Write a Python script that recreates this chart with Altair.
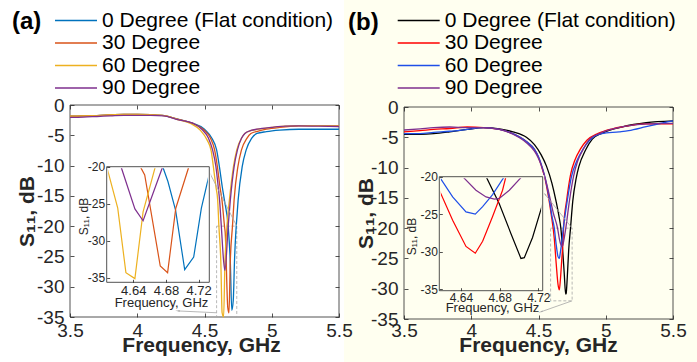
import altair as alt
import pandas as pd

W, H = 697, 362
FONT = "Liberation Sans"
DARK = "#262626"
GRAY = "#A6A6A6"
WHITE = "#FFFFFF"
CREAM = "#FFFFF0"

series = ["0 Degree (Flat condition)", "30 Degree", "60 Degree", "90 Degree"]
colors_a = ["#0072BD", "#D95319", "#EDB120", "#7E2F8E"]
colors_b = ["#000000", "#FF0000", "#1F4FE8", "#7E2F8E"]

# ---------------- panel (a) ----------------
a0_f = [3.5, 3.6, 3.7, 3.8, 3.9, 4.0, 4.1, 4.2, 4.3, 4.41, 4.5, 4.555, 4.59, 4.611, 4.632, 4.648, 4.676,
        4.6824, 4.6918, 4.7029, 4.7139, 4.7233, 4.733, 4.736, 4.75, 4.78, 4.81, 4.85, 4.89, 4.96, 5.06,
        5.2, 5.35, 5.5]
a0_db = [-1.85, -1.8, -1.75, -1.65, -1.55, -1.55, -1.6, -1.75, -2.35, -3.0, -4.0, -5.5, -7.4, -10.2, -13.5,
         -15.7, -20.0, -22.0, -25.9, -33.9, -32.2, -25.6, -21.0, -20.0, -15.7, -10.2, -7.4, -5.5, -4.7, -4.4,
         -4.15, -4.0, -4.0, -4.0]
a30_f = [3.5, 3.6, 3.7, 3.8, 3.9, 4.0, 4.1, 4.2, 4.3, 4.41, 4.49, 4.545, 4.575, 4.596, 4.615, 4.63, 4.6486,
         4.654, 4.673, 4.682, 4.692, 4.708, 4.72, 4.748, 4.775, 4.815, 4.845, 4.9, 4.96, 5.06, 5.2, 5.35, 5.5]
a30_db = [-1.85, -1.8, -1.75, -1.65, -1.55, -1.55, -1.6, -1.75, -2.35, -3.0, -4.0, -5.5, -7.4, -10.2, -13.5,
          -15.7, -20.0, -21.1, -33.4, -34.3, -25.6, -20.0, -15.7, -10.2, -7.4, -5.5, -4.7, -4.3, -4.0, -3.7,
          -3.45, -3.4, -3.45]
a60_f = [3.5, 3.6, 3.7, 3.8, 3.9, 4.0, 4.1, 4.2, 4.3, 4.4, 4.47, 4.52, 4.55, 4.566, 4.585, 4.598, 4.607,
         4.621, 4.631, 4.642, 4.652, 4.667, 4.685, 4.715, 4.74, 4.775, 4.80, 4.85, 4.9, 5.0, 5.1, 5.2, 5.35, 5.5]
a60_db = [-1.85, -1.8, -1.75, -1.65, -1.55, -1.55, -1.6, -1.75, -2.4, -3.1, -4.2, -5.8, -7.6, -10.2, -13.5,
          -15.7, -20.0, -25.6, -34.3, -35.1, -26.1, -20.0, -15.7, -10.2, -7.4, -5.5, -4.7, -4.2, -4.0, -3.7,
          -3.5, -3.4, -3.4, -3.45]
a90_f = [3.5, 3.6, 3.7, 3.8, 3.9, 4.0, 4.1, 4.2, 4.3, 4.41, 4.48, 4.53, 4.56, 4.585, 4.602, 4.612, 4.625,
         4.642, 4.652, 4.676, 4.692, 4.72, 4.745, 4.775, 4.80, 4.845, 4.89, 5.0, 5.1, 5.2, 5.35, 5.5]
a90_db = [-2.05, -2.0, -1.9, -1.8, -1.7, -1.7, -1.7, -1.8, -2.4, -3.0, -4.0, -5.5, -7.4, -10.2, -13.5, -15.7,
          -20.0, -25.7, -27.3, -20.0, -15.7, -10.2, -7.4, -5.5, -4.7, -4.2, -4.0, -3.7, -3.5, -3.45, -3.5, -3.55]

# ---------------- panel (b) ----------------
b0_f = [3.5, 3.62, 3.72, 3.84, 3.97, 4.09, 4.21, 4.31, 4.41, 4.47, 4.52, 4.56, 4.6, 4.63, 4.652, 4.666,
        4.6796, 4.6917, 4.702, 4.7055, 4.714, 4.7245, 4.738, 4.755, 4.78, 4.80, 4.85, 4.9, 4.97, 5.13, 5.3, 5.5]
b0_db = [-4.5, -4.5, -4.4, -4.1, -3.7, -3.4, -3.6, -4.1, -5.0, -6.2, -7.9, -9.8, -12.6, -15.5, -18.0, -20.0,
         -23.6, -27.6, -30.9, -30.8, -28.1, -23.6, -20.0, -15.5, -11.8, -9.85, -7.1, -5.3, -4.35, -3.25, -2.6, -2.3]
b30_f = [3.5, 3.62, 3.72, 3.84, 3.97, 4.09, 4.21, 4.31, 4.41, 4.47, 4.5, 4.52, 4.55, 4.57, 4.595, 4.6176,
         4.6314, 4.6452, 4.6548, 4.6624, 4.6727, 4.683, 4.6865, 4.71, 4.74, 4.77, 4.81, 4.86, 4.944, 5.05,
         5.13, 5.3, 5.5]
b30_db = [-4.1, -3.9, -3.7, -3.55, -3.3, -3.4, -3.7, -4.4, -5.7, -7.0, -8.3, -9.6, -12.0, -14.3, -17.8, -21.8,
          -25.8, -29.3, -30.2, -28.6, -25.3, -21.8, -20.0, -15.3, -11.0, -8.8, -7.0, -5.5, -4.35, -3.6, -3.25,
          -2.8, -2.8]
b60_f = [3.5, 3.62, 3.72, 3.84, 3.97, 4.09, 4.21, 4.31, 4.41, 4.47, 4.5, 4.52, 4.55, 4.575, 4.6, 4.6176,
         4.6314, 4.6452, 4.6548, 4.6624, 4.6727, 4.6848, 4.715, 4.745, 4.787, 4.83, 4.88, 4.97, 5.1, 5.17,
         5.3, 5.43, 5.5]
b60_db = [-4.4, -4.4, -4.2, -4.0, -3.7, -3.4, -3.7, -4.4, -5.7, -7.0, -8.2, -9.4, -11.8, -14.5, -18.0, -20.0,
          -22.7, -24.7, -25.0, -24.0, -22.4, -20.0, -15.3, -11.5, -8.8, -7.0, -5.5, -4.4, -4.1, -3.9, -3.25,
          -2.6, -2.3]
b90_f = [3.5, 3.62, 3.72, 3.84, 3.97, 4.09, 4.21, 4.31, 4.41, 4.47, 4.5, 4.52, 4.55, 4.58, 4.61, 4.6417,
         4.6555, 4.6659, 4.6745, 4.6796, 4.69, 4.703, 4.73, 4.76, 4.79, 4.83, 4.88, 4.957, 5.13, 5.3, 5.5]
b90_db = [-3.8, -3.6, -3.4, -3.3, -3.4, -3.4, -3.7, -4.5, -5.9, -7.3, -8.5, -9.6, -11.8, -14.5, -17.5, -20.0,
          -21.8, -22.7, -23.0, -22.9, -21.8, -20.0, -15.5, -11.5, -9.0, -7.1, -5.3, -4.35, -3.25, -2.8, -2.7]

# ---------------- axes / zoom boxes ----------------
x_ticks = [3.5, 4, 4.5, 5, 5.5]
y_ticks = [0, -5, -10, -15, -20, -25, -30, -35]
inset_x_ticks = [4.64, 4.68, 4.72]
inset_y_ticks = [-20, -25, -30, -35]
main_xlim = [3.5, 5.5]
main_ylim = [-35, 0]
inset_a_xlim = [4.6075, 4.733]
inset_a_ylim = [-35.6, -20]
inset_b_xlim = [4.6176, 4.7245]
inset_b_ylim = [-35.2, -20]
zoom_a_f = [4.59, 4.74]
zoom_a_db = [-35, -20]
zoom_b_f = [4.59, 4.75]
zoom_b_db = [-32, -20]
arrow_a1_f, arrow_a1_db = [4.74, 4.541], [-20, -11.3]
arrow_a2_f, arrow_a2_db = [4.59, 4.305], [-34.3, -34.0]
arrow_b1_f, arrow_b1_db = [4.75, 4.548], [-20, -14.4]
arrow_b2_f, arrow_b2_db = [4.75, 4.52], [-32, -33.8]


def curves(fs, dbs):
    rows = []
    for name, f, d in zip(series, fs, dbs):
        for fi, di in zip(f, d):
            rows.append({"series": name, "f": fi, "dB": di})
    return pd.DataFrame(rows)


def box(xlim, ylim):
    return pd.DataFrame({"x0": [xlim[0]], "x1": [xlim[1]], "y0": [ylim[0]], "y1": [ylim[1]]})


def seg(fs, dbs):
    return pd.DataFrame({"f": fs, "dB": dbs})


def sc(dom, rng, clamp=False):
    return alt.Scale(domain=dom, range=rng, nice=False, zero=False, clamp=clamp)


def tick_axis(orient, offset, values, size):
    return alt.Axis(orient=orient, offset=offset, values=values, labels=False, domain=False, grid=False,
                    ticks=True, tickSize=size, tickColor=DARK, tickWidth=0.8, title=None, zindex=2)


def label_axis(orient, offset, values, fsize, pad, title, tsize, tweight, tx, ty):
    kw = dict(orient=orient, offset=offset, values=values, labelExpr="datum.value + ''", labelFont=FONT,
              labelFontSize=fsize, labelColor=DARK, labelPadding=pad, labelFlush=False, labelOverlap=False,
              ticks=False, domain=False, grid=False, title=title, titleFont=FONT, titleFontSize=tsize,
              titleFontWeight=tweight, titleColor=DARK, titleX=tx, titleY=ty, titleBaseline="alphabetic",
              titleAlign="center", zindex=2)
    if orient == "left":
        kw["titleAngle"] = 270
    return alt.Axis(**kw)


def panel(G, df, colors, bg):
    xr, yr, ixr, iyr = G["xr"], G["yr"], G["ixr"], G["iyr"]
    L = []
    # main frame with labelled axes
    L.append(alt.Chart(box(main_xlim, main_ylim)).mark_rect(filled=False, color=DARK, strokeWidth=0.8).encode(
        x=alt.X("x0:Q", scale=sc(main_xlim, xr),
                axis=label_axis("bottom", yr[0] - H, x_ticks, 19, G["xlp"], "Frequency, GHz", 21, "bold",
                                G["xtx"], G["xty"])),
        x2="x1:Q",
        y=alt.Y("y0:Q", scale=sc(main_ylim, yr),
                axis=label_axis("left", -xr[0], y_ticks, 19, 6, "S₁₁, dB", 21, "bold", G["ytx"], G["yty"])),
        y2="y1:Q"))
    # dashed zoom box + inward ticks on top and right edges
    L.append(alt.Chart(box(G["zf"], G["zdb"])).mark_rect(filled=False, color=GRAY, strokeWidth=0.8,
                                                       strokeDash=[3, 2]).encode(
        x=alt.X("x0:Q", scale=sc(main_xlim, xr), axis=tick_axis("bottom", yr[1] - H, x_ticks, 4)),
        x2="x1:Q",
        y=alt.Y("y0:Q", scale=sc(main_ylim, yr), axis=tick_axis("left", -xr[1], y_ticks, 4)),
        y2="y1:Q"))
    # main curves + inward ticks on bottom and left edges
    L.append(alt.Chart(df).mark_line(strokeWidth=1.3, interpolate="monotone").encode(
        x=alt.X("f:Q", scale=sc(main_xlim, xr, True), axis=tick_axis("top", -yr[0], x_ticks, 4)),
        y=alt.Y("dB:Q", scale=sc(main_ylim, yr, True), axis=tick_axis("right", xr[0] - W, y_ticks, 4)),
        color=alt.Color("series:N", scale=alt.Scale(domain=series, range=colors),
                        legend=alt.Legend(orient="none", legendX=G["lx"], legendY=G["ly"], title=None,
                                          symbolType="stroke", symbolSize=1764, symbolStrokeWidth=1.5,
                                          labelFont=FONT, labelFontSize=21, labelColor="black", labelOffset=4,
                                          clipHeight=21, rowPadding=0.5, padding=0, labelLimit=400,
                                          direction="vertical"))))
    # arrows
    for fs, dbs, ang in G["arrows"]:
        L.append(alt.Chart(seg(fs, dbs)).mark_line(color=GRAY, strokeWidth=0.8).encode(
            x=alt.X("f:Q", scale=sc(main_xlim, xr), axis=None),
            y=alt.Y("dB:Q", scale=sc(main_ylim, yr), axis=None)))
        L.append(alt.Chart(seg(fs[1:], dbs[1:])).mark_point(shape="wedge", angle=ang, size=28, filled=True,
                                                            color=GRAY, opacity=1).encode(
            x=alt.X("f:Q", scale=sc(main_xlim, xr), axis=None),
            y=alt.Y("dB:Q", scale=sc(main_ylim, yr), axis=None)))
    # inset curves
    L.append(alt.Chart(df).mark_line(strokeWidth=1.2).encode(
        x=alt.X("f:Q", scale=sc(G["ixlim"], ixr, True), axis=tick_axis("top", -iyr[0], inset_x_ticks, 3)),
        y=alt.Y("dB:Q", scale=sc(G["iylim"], iyr, True), axis=tick_axis("right", ixr[0] - W, inset_y_ticks, 3)),
        color=alt.Color("series:N", scale=alt.Scale(domain=series, range=colors), legend=None)))
    # mask for clamped parts along the inset edges
    L.append(alt.Chart(box(G["ixlim"], G["iylim"])).mark_rect(filled=False, color=bg, strokeWidth=3).encode(
        x=alt.X("x0:Q", scale=sc(G["ixlim"], ixr), axis=None), x2="x1:Q",
        y=alt.Y("y0:Q", scale=sc(G["iylim"], iyr), axis=None), y2="y1:Q"))
    # inset frame with labelled axes
    L.append(alt.Chart(box(G["ixlim"], G["iylim"])).mark_rect(filled=False, color=DARK, strokeWidth=0.8).encode(
        x=alt.X("x0:Q", scale=sc(G["ixlim"], ixr),
                axis=label_axis("bottom", iyr[0] - H, inset_x_ticks, G["ixfs"], 2, "Frequency, GHz", 13,
                                "normal", G["ixtx"], G["ixty"])),
        x2="x1:Q",
        y=alt.Y("y0:Q", scale=sc(G["iylim"], iyr),
                axis=label_axis("left", -ixr[0], inset_y_ticks, 12, 2, "S₁₁, dB", 12, "normal",
                                G["iytx"], G["iyty"])),
        y2="y1:Q"))
    return L


GA = dict(xr=[70, 339], yr=[317, 105], ixr=[106.7, 209.3], iyr=[282.3, 166.7],
          ixlim=inset_a_xlim, iylim=inset_a_ylim, zf=zoom_a_f, zdb=zoom_a_db,
          xlp=4, xtx=201, xty=34.5, ytx=-37, yty=211, lx=54, ly=10,
          ixfs=13, ixtx=161, ixty=23.7, iytx=-19.7, iyty=216,
          arrows=[(arrow_a1_f, arrow_a1_db, 333), (arrow_a2_f, arrow_a2_db, 273)])
GB = dict(xr=[404, 673], yr=[319, 107], ixr=[439.3, 542.7], iyr=[290.7, 176.7],
          ixlim=inset_b_xlim, iylim=inset_b_ylim, zf=zoom_b_f, zdb=zoom_b_db,
          xlp=2, xtx=538, xty=32.5, ytx=-32, yty=213, lx=396.7, ly=10,
          ixfs=12, ixtx=492, ixty=20.3, iytx=-24.3, iyty=236,
          arrows=[(arrow_b1_f, arrow_b1_db, 320), (arrow_b2_f, arrow_b2_db, 249)])

df_a = curves([a0_f, a30_f, a60_f, a90_f], [a0_db, a30_db, a60_db, a90_db])
df_b = curves([b0_f, b30_f, b60_f, b90_f], [b0_db, b30_db, b60_db, b90_db])

one = pd.DataFrame({"k": [0]})
background_b = alt.Chart(one).mark_rect(color=CREAM).encode(
    x=alt.value(344), x2=alt.value(W), y=alt.value(0), y2=alt.value(H))
tag_a = alt.Chart(one).mark_text(text="(a)", align="left", baseline="alphabetic", font=FONT, fontSize=24,
                                 fontWeight="bold", color="black").encode(x=alt.value(12), y=alt.value(29))
tag_b = alt.Chart(one).mark_text(text="(b)", align="left", baseline="alphabetic", font=FONT, fontSize=24,
                                 fontWeight="bold", color="black").encode(x=alt.value(348), y=alt.value(30))

layers = [background_b] + panel(GA, df_a, colors_a, WHITE) + panel(GB, df_b, colors_b, CREAM) + [tag_a, tag_b]

chart = alt.layer(*layers).resolve_scale(
    x="independent", y="independent", color="independent"
).resolve_axis(x="independent", y="independent").resolve_legend(color="independent").properties(
    width=W, height=H, padding=0, autosize=alt.AutoSizeParams(type="none"), background="white"
).configure_view(stroke=None)

chart.save("out.html", embed_options={"renderer": "svg", "actions": False})
